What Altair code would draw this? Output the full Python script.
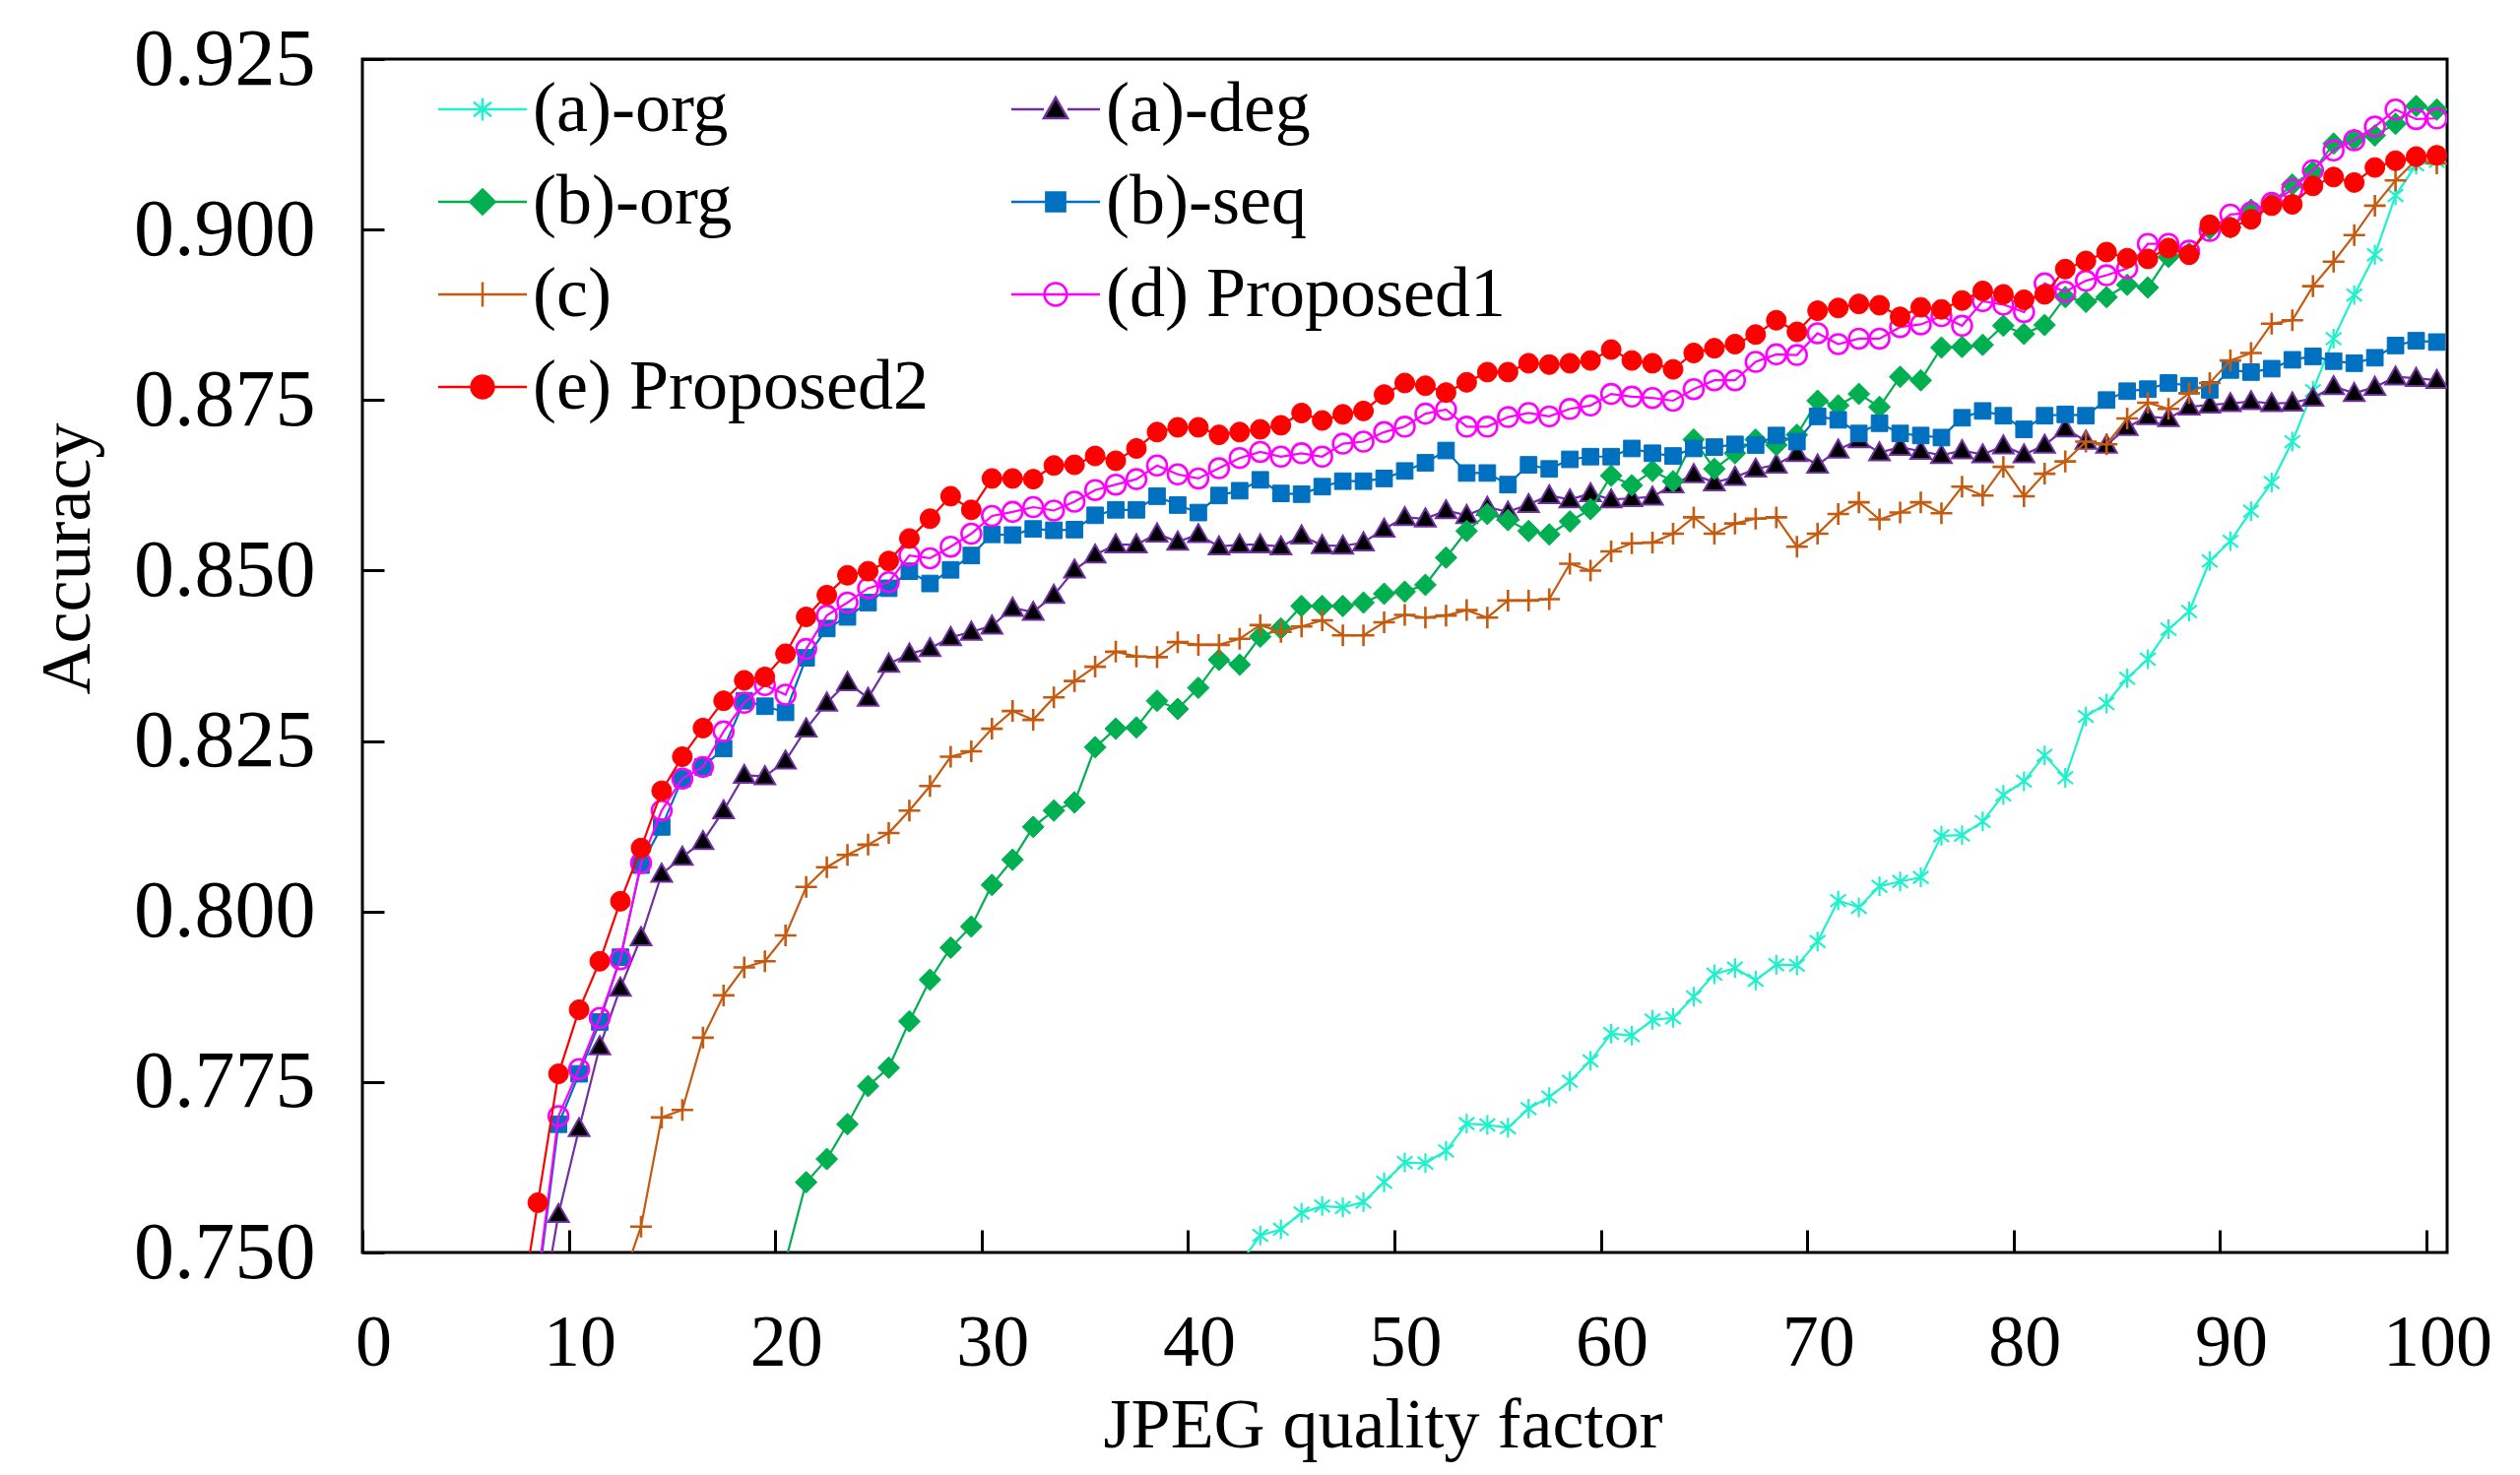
import altair as alt
import pandas as pd

# ---------------- data ----------------
SERIES = ["(a)-org", "(a)-deg", "(b)-org", "(b)-seq", "(c)", "(d) Proposed1", "(e) Proposed2"]
FIRST_QUALITY = [42, 8, 20, 8, 12, 8, 7]

A_ORG = [0.7483, 0.7525, 0.7534, 0.7558, 0.7568, 0.7566, 0.7574, 0.7603, 0.7632,
         0.7631, 0.7649, 0.7689, 0.7687, 0.7683, 0.7711, 0.7728, 0.7751, 0.7781, 0.7821,
         0.7818, 0.7841, 0.7844, 0.7875, 0.7908, 0.7917, 0.7899, 0.7922, 0.7921, 0.7956,
         0.8016, 0.8006, 0.8037, 0.8044, 0.8050, 0.8111, 0.8112, 0.8132, 0.8171, 0.8191,
         0.8229, 0.8196, 0.8286, 0.8305, 0.8342, 0.8370, 0.8414, 0.8440, 0.8514, 0.8543,
         0.8587, 0.8629, 0.8689, 0.8764, 0.8840, 0.8904, 0.8963, 0.9050, 0.9095, 0.9100]

A_DEG = [0.738, 0.7556, 0.7682,
         0.7802, 0.7888, 0.7962, 0.8055, 0.8080, 0.8103, 0.8148, 0.8200, 0.8198, 0.8221,
         0.8268, 0.8306, 0.8336, 0.8313, 0.8363, 0.8378, 0.8386, 0.8402, 0.8410, 0.8419,
         0.8445, 0.8439, 0.8464, 0.8501, 0.8523, 0.8538, 0.8538, 0.8554, 0.8542, 0.8553,
         0.8535, 0.8538, 0.8538, 0.8535, 0.8551, 0.8537, 0.8536, 0.8541, 0.8561, 0.8578,
         0.8576, 0.8588, 0.8581, 0.8593, 0.8586, 0.8597, 0.8610, 0.8604, 0.8613, 0.8604,
         0.8606, 0.8608, 0.8626, 0.8641, 0.8629, 0.8637, 0.8649, 0.8655, 0.8672, 0.8655,
         0.8677, 0.8692, 0.8673, 0.8681, 0.8675, 0.8669, 0.8676, 0.8670, 0.8683, 0.8670,
         0.8684, 0.8708, 0.8690, 0.8684, 0.8710, 0.8726, 0.8723, 0.8740, 0.8743, 0.8745,
         0.8748, 0.8745, 0.8746, 0.8753, 0.8770, 0.8760, 0.8769, 0.8784, 0.8782, 0.8779]

B_ORG = [0.7487,
         0.7603, 0.7637, 0.7688, 0.7744, 0.7771, 0.7839, 0.7900, 0.7947, 0.7978, 0.8039,
         0.8076, 0.8124, 0.8148, 0.8160, 0.8241, 0.8268, 0.8270, 0.8309, 0.8297, 0.8328,
         0.8369, 0.8362, 0.8403, 0.8415, 0.8448, 0.8448, 0.8448, 0.8453, 0.8466, 0.8469,
         0.8479, 0.8519, 0.8558, 0.8583, 0.8574, 0.8558, 0.8553, 0.8572, 0.8590, 0.8639,
         0.8625, 0.8646, 0.8631, 0.8692, 0.8649, 0.8672, 0.8692, 0.8684, 0.8699, 0.8749,
         0.8742, 0.8759, 0.8740, 0.8784, 0.8779, 0.8827, 0.8828, 0.8831, 0.8859, 0.8847,
         0.8860, 0.8901, 0.8894, 0.8901, 0.8919, 0.8915, 0.8960, 0.8965, 0.9001, 0.9003,
         0.9029, 0.9039, 0.9066, 0.9085, 0.9126, 0.9132, 0.9138, 0.9155, 0.9181, 0.9176]

B_SEQ = [0.745, 0.7688, 0.7762,
         0.7838, 0.7933, 0.8068, 0.8124, 0.8195, 0.8212, 0.8239, 0.8309, 0.8301, 0.8292,
         0.8372, 0.8415, 0.8432, 0.8453, 0.8474, 0.8499, 0.8481, 0.8501, 0.8522, 0.8553,
         0.8552, 0.8561, 0.8559, 0.8560, 0.8581, 0.8589, 0.8589, 0.8609, 0.8596, 0.8585,
         0.8610, 0.8617, 0.8633, 0.8613, 0.8612, 0.8623, 0.8631, 0.8631, 0.8635, 0.8646,
         0.8658, 0.8676, 0.8643, 0.8643, 0.8626, 0.8655, 0.8649, 0.8663, 0.8667, 0.8667,
         0.8679, 0.8672, 0.8668, 0.8679, 0.8681, 0.8685, 0.8684, 0.8698, 0.8689, 0.8726,
         0.8721, 0.8701, 0.8716, 0.8701, 0.8698, 0.8695, 0.8724, 0.8734, 0.8727, 0.8707,
         0.8727, 0.8729, 0.8727, 0.8750, 0.8763, 0.8766, 0.8775, 0.8771, 0.8765, 0.8794,
         0.8791, 0.8796, 0.8809, 0.8814, 0.8807, 0.8804, 0.8812, 0.8830, 0.8837, 0.8835]

C_VALS = [0.745,
          0.7538, 0.7698, 0.7709, 0.7815, 0.7877, 0.7918, 0.7927, 0.7965,
          0.8036, 0.8065, 0.8083, 0.8098, 0.8115, 0.8148, 0.8184, 0.8227, 0.8235, 0.8268,
          0.8294, 0.8281, 0.8314, 0.8338, 0.8359, 0.8381, 0.8374, 0.8373, 0.8395, 0.8391,
          0.8391, 0.8400, 0.8420, 0.8410, 0.8418, 0.8427, 0.8405, 0.8405, 0.8424, 0.8435,
          0.8431, 0.8434, 0.8442, 0.8431, 0.8456, 0.8456, 0.8458, 0.8510, 0.8500, 0.8528,
          0.8540, 0.8541, 0.8554, 0.8578, 0.8554, 0.8569, 0.8576, 0.8578, 0.8535, 0.8554,
          0.8583, 0.8600, 0.8575, 0.8585, 0.8600, 0.8584, 0.8623, 0.8610, 0.8652, 0.8609,
          0.8642, 0.8660, 0.8689, 0.8685, 0.8723, 0.8746, 0.8737, 0.8760, 0.8775, 0.8808,
          0.8819, 0.8862, 0.8867, 0.8917, 0.8953, 0.8992, 0.9035, 0.9072, 0.9102, 0.9097]

D_PROP1 = [0.746, 0.7700, 0.7769,
           0.7844, 0.7930, 0.8071, 0.8148, 0.8195, 0.8212, 0.8264, 0.8306, 0.8332, 0.8318,
           0.8385, 0.8434, 0.8453, 0.8474, 0.8483, 0.8522, 0.8518, 0.8535, 0.8554, 0.8580,
           0.8586, 0.8593, 0.8588, 0.8601, 0.8618, 0.8626, 0.8634, 0.8654, 0.8641, 0.8635,
           0.8650, 0.8665, 0.8674, 0.8667, 0.8672, 0.8667, 0.8686, 0.8689, 0.8703, 0.8711,
           0.8730, 0.8736, 0.8711, 0.8711, 0.8725, 0.8731, 0.8726, 0.8737, 0.8742, 0.8759,
           0.8755, 0.8753, 0.8749, 0.8766, 0.8779, 0.8779, 0.8806, 0.8817, 0.8816, 0.8848,
           0.8832, 0.8840, 0.8840, 0.8857, 0.8861, 0.8873, 0.8859, 0.8895, 0.8890, 0.8879,
           0.8921, 0.8909, 0.8925, 0.8933, 0.8943, 0.8979, 0.8979, 0.8969, 0.8998, 0.9022,
           0.9025, 0.9039, 0.9059, 0.9087, 0.9116, 0.9131, 0.9151, 0.9176, 0.9162, 0.9163]

E_PROP2 = [0.738, 0.7573, 0.7762, 0.7856,
           0.7927, 0.8015, 0.8093, 0.8177, 0.8227, 0.8269, 0.8309, 0.8339, 0.8344, 0.8378,
           0.8432, 0.8464, 0.8493, 0.8499, 0.8514, 0.8547, 0.8576, 0.8609, 0.8589, 0.8635,
           0.8635, 0.8634, 0.8654, 0.8655, 0.8668, 0.8661, 0.8679, 0.8703, 0.8710, 0.8710,
           0.8699, 0.8703, 0.8707, 0.8713, 0.8731, 0.8720, 0.8729, 0.8734, 0.8758, 0.8775,
           0.8771, 0.8761, 0.8776, 0.8791, 0.8791, 0.8804, 0.8802, 0.8804, 0.8808, 0.8824,
           0.8808, 0.8804, 0.8795, 0.8819, 0.8826, 0.8832, 0.8846, 0.8867, 0.8850, 0.8881,
           0.8885, 0.8891, 0.8889, 0.8872, 0.8886, 0.8883, 0.8896, 0.8910, 0.8905, 0.8897,
           0.8905, 0.8942, 0.8954, 0.8967, 0.8958, 0.8957, 0.8973, 0.8963, 0.9007, 0.9003,
           0.9015, 0.9035, 0.9037, 0.9064, 0.9077, 0.9069, 0.9091, 0.9101, 0.9107, 0.9109]

VALUES = [A_ORG, A_DEG, B_ORG, B_SEQ, C_VALS, D_PROP1, E_PROP2]

X_TICK_LABELS = list(range(0, 101, 10))
Y_TICKS = [0.750, 0.775, 0.800, 0.825, 0.850, 0.875, 0.900, 0.925]

# ---------------- styles ----------------
COLORS = ["#1EF2CC", "#7030A0", "#00B050", "#0070C0", "#C55A11", "#FF00FF", "#FF0000"]
FILLS = ["transparent", "#000000", "#00B050", "#0070C0", "transparent", "transparent", "#FF0000"]
STROKE_W = [2.2, 2.0, 1.0, 1.0, 2.6, 2.6, 1.0]

CIRCLE = "M0.95,0A0.95,0.95,0,1,1,-0.95,0A0.95,0.95,0,1,1,0.95,0Z"
SQUARE = "M-0.8,-0.8H0.8V0.8H-0.8Z"
DIAMOND = "M0,-1.05L1.05,0L0,1.05L-1.05,0Z"
TRIANGLE = "M0,-1L1,0.75H-1Z"
PLUS = "M-1.05,0H1.05M0,-1.05V1.05"
ASTER = "M0,-0.95V0.95M-0.75,-0.6L0.75,0.6M-0.75,0.6L0.75,-0.6"
SHAPES = [ASTER, TRIANGLE, DIAMOND, SQUARE, PLUS, CIRCLE, CIRCLE]

LINE_FULL = "M-3.75,0H3.75"
LINE_SPLIT = "M-3.75,0H-1M1,0H3.75"
LEGEND_SHAPES = [LINE_FULL + ASTER, LINE_SPLIT + TRIANGLE, LINE_FULL + DIAMOND,
                 LINE_FULL + SQUARE, LINE_FULL + PLUS, LINE_FULL + CIRCLE, LINE_FULL + CIRCLE]

FONT = "Liberation Serif"

# ---------------- table ----------------
rows = []
for name, start, vals in zip(SERIES, FIRST_QUALITY, VALUES):
    for i, v in enumerate(vals):
        rows.append({"series": name, "quality": start + i, "value": v})
df = pd.DataFrame(rows)

x_scale = alt.Scale(domain=[-0.5, 100.5], nice=False, zero=False)
y_scale = alt.Scale(domain=[0.75, 0.925], nice=False, zero=False)

x_axis = alt.Axis(
    values=[t - 0.5 for t in X_TICK_LABELS],
    labelExpr="format(datum.value + 0.5, 'd')",
    title="JPEG quality factor", orient="bottom", offset=-23,
    domain=False, grid=False, ticks=True, tickSize=23, tickWidth=3, tickColor="black",
    labelFont=FONT, labelFontSize=74, labelColor="black", labelPadding=56, labelOffset=11,
    labelFlush=False, labelOverlap=False, labelLimit=400,
    titleFont=FONT, titleFontSize=72, titleFontWeight="normal", titleColor="black",
    titleX=1036, titleY=220, titleBaseline="alphabetic", titleAlign="center",
)
y_axis = alt.Axis(
    values=Y_TICKS, format=".3f",
    title="Accuracy", orient="left", offset=-22,
    domain=False, grid=False, ticks=True, tickSize=22, tickWidth=3, tickColor="black",
    labelFont=FONT, labelFontSize=82, labelColor="black", labelPadding=48, labelLimit=400,
    labelFlush=False, labelOverlap=False, labelAlign="right", labelBaseline="middle",
    titleFont=FONT, titleFontSize=72, titleFontWeight="normal", titleColor="black",
    titleX=-300, titleY=507, titleAngle=270, titleBaseline="alphabetic", titleAlign="center",
)

X = alt.X("quality:Q", scale=x_scale, axis=x_axis)
Y = alt.Y("value:Q", scale=y_scale, axis=y_axis)

layers = []
for i, name in enumerate(SERIES):
    base = alt.Chart(df).transform_filter(alt.datum.series == name)
    layers.append(
        base.mark_line(color=COLORS[i], strokeWidth=2.2, clip=True).encode(x=X, y=Y)
    )
    layers.append(
        base.transform_filter(alt.datum.value >= 0.75).mark_point(
            shape=SHAPES[i], size=440, filled=True, fill=FILLS[i], stroke=COLORS[i],
            strokeWidth=STROKE_W[i], opacity=1, clip=True
        ).encode(x=X, y=Y)
    )

legend = alt.Legend(
    title=None, orient="none", legendX=86, legendY=15, columns=2, direction="horizontal",
    columnPadding=79, rowPadding=22, padding=0,
    symbolSize=576, symbolStrokeWidth=2.5, symbolOpacity=1,
    labelFont=FONT, labelFontSize=72, labelColor="black", labelOffset=15, labelLimit=1000,
)
legend_layer = alt.Chart(df).transform_filter("false").mark_point(
    filled=True, opacity=1, strokeWidth=2.5
).encode(
    shape=alt.Shape("series:N", scale=alt.Scale(domain=SERIES, range=LEGEND_SHAPES), legend=legend),
    fill=alt.Fill("series:N", scale=alt.Scale(domain=SERIES, range=FILLS), legend=legend),
    stroke=alt.Stroke("series:N", scale=alt.Scale(domain=SERIES, range=COLORS), legend=legend),
)
layers.append(legend_layer)

chart = alt.layer(*layers).properties(
    width=2117, height=1212,
    autosize=alt.AutoSizeParams(type="none"),
    padding={"left": 360, "top": 52, "right": 66, "bottom": 218},
    background="white",
).configure_view(stroke="black", strokeWidth=3)

chart.save("out.html", embed_options={"renderer": "svg", "actions": False})
